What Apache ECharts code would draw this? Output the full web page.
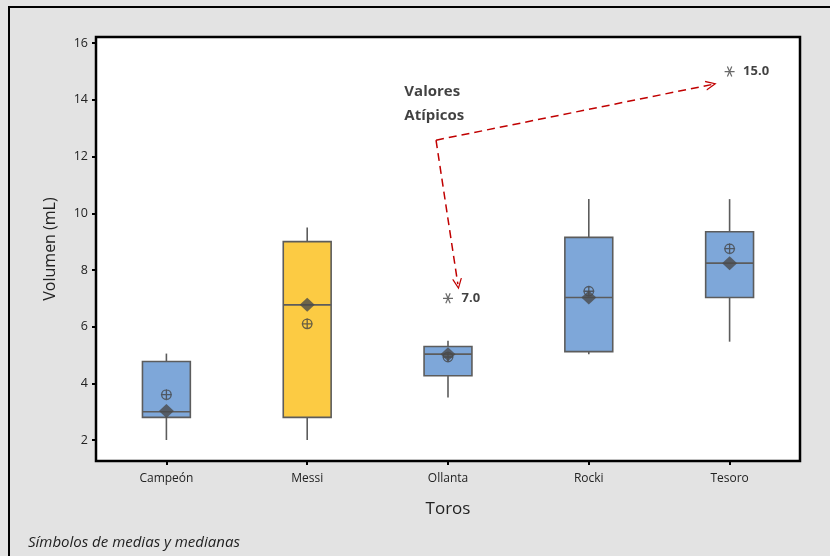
<!DOCTYPE html>
<html>
<head>
<meta charset="utf-8">
<script src="https://cdn.jsdelivr.net/npm/echarts@6/dist/echarts.min.js"></script>
<style>html,body{margin:0;padding:0;background:#e3e3e3}#c{width:830px;height:556px}</style>
</head>
<body>
<div id="c"></div>
<script>
// ---- data ----
const categories = ['Campeón', 'Messi', 'Ollanta', 'Rocki', 'Tesoro'];
// [whisker low, Q1, median, Q3, whisker high]
const boxValues = [
  [2.0, 2.8, 3.0, 4.77, 5.05],
  [2.0, 2.8, 6.77, 9.0, 9.5],
  [3.5, 4.27, 5.03, 5.3, 5.5],
  [5.03, 5.12, 7.03, 9.15, 10.5],
  [5.47, 7.03, 8.24, 9.35, 10.5]
];
const boxColors = ['#7ea7d9', '#fccb43', '#7ea7d9', '#7ea7d9', '#7ea7d9'];
const meanValues = [3.6, 6.1, 4.93, 7.25, 8.75];
const medianValues = [3.02, 6.77, 5.03, 7.03, 8.24];
const outliers = [[2, 7.0], [4, 15.0]];
const yTicks = [2, 4, 6, 8, 10, 12, 14, 16];
// annotation (in continuous category-index units)
const noteText = 'Valores\nAtípicos';
const notePos = [1.69, 13.87];
const arrowStart = [1.915, 12.58];
const arrowEnds = [[2.07, 7.5], [3.87, 14.54]];

const chart = echarts.init(document.getElementById('c'), null, {renderer: 'canvas'});
const FONT = 'Open Sans';
const boxData = boxValues.map((v, i) => ({value: [i].concat(v), itemStyle: {color: boxColors[i]}}));

function renderBox(params, api) {
  const x = api.value(0);
  const lo = api.coord([x, api.value(1)]);
  const q1 = api.coord([x, api.value(2)]);
  const md = api.coord([x, api.value(3)]);
  const q3 = api.coord([x, api.value(4)]);
  const hi = api.coord([x, api.value(5)]);
  const w = api.size([1, 0])[0] * 0.34;
  const cx = lo[0];
  const st = {stroke: '#5c5c5c', lineWidth: 1.6};
  return {type: 'group', children: [
    {type: 'line', shape: {x1: cx, y1: hi[1], x2: cx, y2: q3[1]}, style: st},
    {type: 'line', shape: {x1: cx, y1: q1[1], x2: cx, y2: lo[1]}, style: st},
    {type: 'rect', shape: {x: cx - w / 2, y: q3[1], width: w, height: q1[1] - q3[1]},
     style: {fill: api.visual('color'), stroke: '#5c5c5c', lineWidth: 1.6}},
    {type: 'line', shape: {x1: cx - w / 2, y1: md[1], x2: cx + w / 2, y2: md[1]}, style: st}
  ]};
}

const meanSym = 'path://M10,5A5,5,0,1,1,0,5A5,5,0,1,1,10,5Z M5,-0.8L5,10.8 M-0.8,5L10.8,5';
const starSym = 'path://M0,5L10,5 M2.8,0L7.2,10 M7.2,0L2.8,10';
const chevron = 'path://M0,10L5,0L10,10L8.6,10L5,2.6L1.4,10Z';

const option = {
  backgroundColor: '#e3e3e3',
  animation: false,
  textStyle: {fontFamily: FONT},
  grid: {left: 96, top: 37, right: 30, bottom: 95, show: true, backgroundColor: '#ffffff', borderColor: '#000', borderWidth: 2.5},
  xAxis: [{
    type: 'category', data: categories, boundaryGap: true,
    axisLine: {show: false, onZero: false},
    axisTick: {show: true, alignWithLabel: true, length: 4, lineStyle: {color: '#000', width: 2}},
    axisLabel: {color: '#222', fontSize: 12, margin: 12, fontFamily: FONT},
    name: 'Toros', nameLocation: 'middle', nameGap: 40,
    nameTextStyle: {color: '#222', fontSize: 17, fontFamily: FONT}
  }, {
    type: 'value', min: -0.5, max: 4.5, show: false,
    axisLine: {onZero: false}
  }],
  yAxis: {
    type: 'value', min: 1.26, max: 16.22, position: 'left',
    splitLine: {show: false},
    axisLine: {show: false, onZero: false},
    axisTick: {show: true, length: 4, lineStyle: {color: '#000', width: 2}, customValues: yTicks},
    axisLabel: {color: '#222', fontSize: 12.5, margin: 8, fontFamily: FONT, customValues: yTicks},
    name: 'Volumen (mL)', nameLocation: 'middle', nameGap: 38, nameRotate: 90,
    nameTextStyle: {color: '#222', fontSize: 16, fontFamily: FONT}
  },
  graphic: [
    {type: 'rect', shape: {x: 9, y: 7, width: 900, height: 700}, style: {fill: 'none', stroke: '#000', lineWidth: 2}, z: 100},
    {type: 'text', left: 28, top: 535, style: {text: 'Símbolos de medias y medianas', fill: '#222', font: 'italic 15px "Open Sans"'}}
  ],
  series: [
    {type: 'custom', renderItem: renderBox, data: boxData, encode: {x: 0, y: [1, 2, 3, 4, 5]}, z: 2},
    {type: 'scatter', data: meanValues.map((v, i) => [i, v]), symbol: meanSym, symbolSize: 11,
     itemStyle: {color: 'none', borderColor: '#444', borderWidth: 1.3}, z: 3},
    {type: 'scatter', data: medianValues.map((v, i) => [i, v]), symbol: 'diamond', symbolSize: [15, 14],
     itemStyle: {color: '#4a4a4a'}, z: 4},
    {type: 'scatter', data: outliers, symbol: starSym, symbolSize: 10,
     itemStyle: {color: 'none', borderColor: '#444', borderWidth: 1.2}, z: 4,
     label: {show: true, position: 'right', distance: 6, formatter: p => p.value[1].toFixed(1),
             color: '#111', fontWeight: 'bold', fontSize: 13, fontFamily: FONT}},
    {type: 'scatter', xAxisIndex: 1, data: [notePos], symbolSize: 0, z: 5,
     label: {show: true, position: 'right', distance: 0, formatter: noteText, align: 'left',
             color: '#111', fontWeight: 'bold', fontSize: 15, lineHeight: 24, fontFamily: FONT},
     markLine: {
       silent: true, symbol: ['none', chevron], symbolSize: [10, 11],
       label: {show: false},
       lineStyle: {color: '#c00000', type: [8, 5], width: 1.5},
       data: arrowEnds.map(e => [{coord: arrowStart}, {coord: e}])
     }}
  ]
};
chart.setOption(option);
</script>
</body>
</html>
